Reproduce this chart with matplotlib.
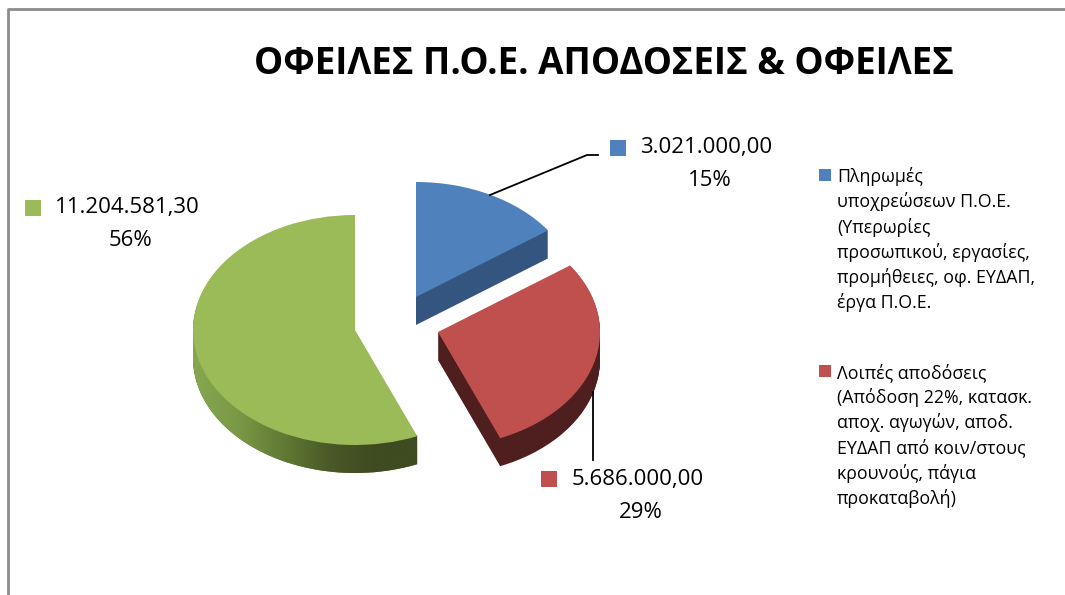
import numpy as np
import matplotlib
matplotlib.use("Agg")
import matplotlib.pyplot as plt
from matplotlib.patches import Wedge, Polygon
from matplotlib.transforms import Affine2D
from matplotlib.colors import LinearSegmentedColormap

# data
values = [3021000.00, 5686000.00, 11204581.30]
top_colors = ["#4F81BD", "#C0504D", "#9BBB59"]
side_colors = ["#34557F", "#4F1F1F", "#5F7A33"]
legend_labels = [
    "Πληρωμές\nυποχρεώσεων Π.Ο.Ε.\n(Υπερωρίες\nπροσωπικού, εργασίες,\nπρομήθειες, οφ. ΕΥΔΑΠ,\nέργα Π.Ο.Ε.",
    "Λοιπές αποδόσεις\n(Απόδοση 22%, κατασκ.\nαποχ. αγωγών, αποδ.\nΕΥΔΑΠ από κοιν/στους\nκρουνούς, πάγια\nπροκαταβολή)",
]
title = "ΟΦΕΙΛΕΣ Π.Ο.Ε. ΑΠΟΔΟΣΕΙΣ & ΟΦΕΙΛΕΣ"

plt.rcParams['font.family'] = ['Open Sans', 'DejaVu Sans']

W, H = 1065, 595
fig = plt.figure(figsize=(W / 100, H / 100), dpi=100)
ax = fig.add_axes([0, 0, 1, 1])
ax.set_xlim(0, W)
ax.set_ylim(H, 0)
ax.axis('off')

# chart frame (only top/left edge visible)
ax.plot([8, 8, W], [H, 9, 9], color="#8C8C8C", lw=2, solid_capstyle='butt')

ax.text(604, 64, title, ha='center', va='center', fontsize=26.5, fontweight='bold')

# wedge angles: start at 12 o'clock, clockwise
fr = np.array(values) / sum(values)
ends = 90 - 360 * np.cumsum(fr)
starts = np.concatenate([[90], ends[:-1]])

rx, ry, depth = 162, 115, 28
centers = [(416, 297), (438, 332), (355, 330)]  # blue, red exploded


def ell(cx, cy):
    return Affine2D().scale(rx, -ry).translate(cx, cy) + ax.transData


for i in [0, 2, 1]:
    cx, cy = centers[i]
    for k in range(depth, 0, -1):
        ax.add_patch(Wedge((0, 0), 1, ends[i], starts[i], transform=ell(cx, cy + k),
                           fc=side_colors[i], ec='none', zorder=1))
    if i == 2:
        # shaded outer side of the big slice (visible front arc only)
        a = np.radians(np.linspace(-180, starts[i], 150))
        xs = cx + rx * np.cos(a)
        ys = cy - ry * np.sin(a)
        pts = np.vstack([np.column_stack([xs, ys - 1]),
                         np.column_stack([xs[::-1], ys[::-1] + depth])])
        poly = Polygon(pts, closed=True, fc='none', ec='none', zorder=1)
        ax.add_patch(poly)
        cmap = LinearSegmentedColormap.from_list(
            "g", ["#87A74F", "#7A9846", "#627A35", "#4A5A27", "#3F4B21", "#3F4B21"])
        grad = np.linspace(0, 1, 256)[None, :]
        im = ax.imshow(grad, cmap=cmap, extent=[cx - rx, xs[-1] + 1,
                                               cy + ry + depth + 2, cy - 5],
                       aspect='auto', interpolation='bilinear', zorder=1)
        im.set_clip_path(poly)
    ax.add_patch(Wedge((0, 0), 1, ends[i], starts[i], transform=ell(cx, cy),
                       fc=top_colors[i], ec='none', zorder=1))

ax.set_xlim(0, W)
ax.set_ylim(H, 0)


def fmt(v):
    s = f"{v:,.2f}"
    return s.replace(",", "X").replace(".", ",").replace("X", ".")


# data labels: (marker x, value text left, percent centre, line y)
lab_pos = [(618, 640, 710, 148), (549, 572, 641, 479), (33, 55, 130, 208)]
fs = 16
for i, (mx, tx, px, ty) in enumerate(lab_pos):
    ax.scatter([mx], [ty], marker='s', s=120, color=top_colors[i], linewidths=0, zorder=3)
    ax.text(tx, ty, fmt(values[i]), ha='left', va='center', fontsize=fs)
    ax.text(px, ty + 33, f"{round(fr[i] * 100):.0f}%", ha='center', va='center', fontsize=fs)

# leader lines
ax.plot([490, 587, 598], [195, 155, 155], color='black', lw=1.3, zorder=3)
ax.plot([593, 593], [392, 460], color='black', lw=1.3, zorder=3)

# legend
leg_y = [175, 371]
for i, ly in enumerate(leg_y):
    ax.scatter([825], [ly], marker='s', s=75, color=top_colors[i], linewidths=0, zorder=3)
    ax.text(837, ly - 8, legend_labels[i], ha='left', va='top', fontsize=12.8,
            linespacing=1.42)

fig.savefig("out.png", dpi=100)
